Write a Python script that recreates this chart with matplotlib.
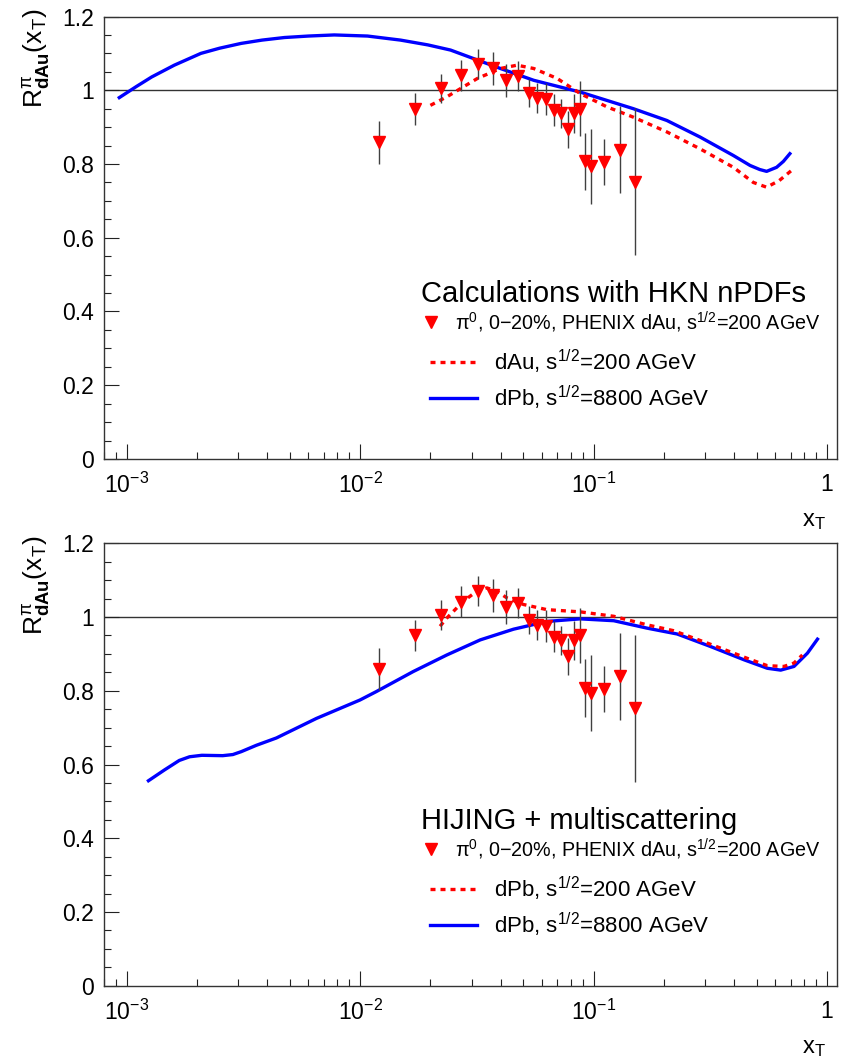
import numpy as np
import matplotlib
matplotlib.use('Agg')
import matplotlib.pyplot as plt
from matplotlib.ticker import FixedLocator, FixedFormatter, MultipleLocator, LogLocator, NullFormatter

plt.rcParams['font.family'] = ['Liberation Sans', 'DejaVu Sans']
plt.rcParams['mathtext.fontset'] = 'custom'
plt.rcParams['mathtext.rm'] = 'Liberation Sans'
plt.rcParams['mathtext.it'] = 'Liberation Sans'
plt.rcParams['mathtext.bf'] = 'Liberation Sans:bold'
plt.rcParams['mathtext.default'] = 'regular'

# PHENIX pi0 dAu 0-20% data (same in both panels)
x_data = [0.0120, 0.0172, 0.0223, 0.0270, 0.0321, 0.0370, 0.0421, 0.0473, 0.0530, 0.0574, 0.0626,
          0.0678, 0.0728, 0.0775, 0.0822, 0.0871, 0.0922, 0.0975, 0.1104, 0.1297, 0.1507]
y_data = [0.859, 0.950, 1.005, 1.041, 1.071, 1.059, 1.027, 1.038, 0.993, 0.979, 0.976,
          0.947, 0.937, 0.894, 0.937, 0.950, 0.807, 0.794, 0.805, 0.839, 0.752]
y_err = [0.058, 0.043, 0.040, 0.042, 0.040, 0.045, 0.045, 0.040, 0.038, 0.040, 0.044,
         0.043, 0.040, 0.050, 0.053, 0.074, 0.078, 0.102, 0.063, 0.118, 0.200]

# top: HKN nPDFs
hkn_dpb_x = [9.3e-4, 1.1e-3, 1.28e-3, 1.6e-3, 2.08e-3, 2.5e-3, 3.09e-3, 3.8e-3, 4.74e-3, 6.0e-3,
             7.75e-3, 1.076e-2, 1.49e-2, 1.95e-2, 2.44e-2, 3.18e-2, 3.99e-2, 5.54e-2, 8.77e-2,
             0.148, 0.206, 0.286, 0.397, 0.468, 0.515, 0.551, 0.608, 0.65, 0.693]
hkn_dpb_y = [0.980, 1.010, 1.036, 1.068, 1.100, 1.114, 1.127, 1.136, 1.143, 1.147,
             1.150, 1.147, 1.136, 1.123, 1.109, 1.082, 1.059, 1.027, 0.995,
             0.950, 0.918, 0.873, 0.823, 0.796, 0.785, 0.780, 0.791, 0.807, 0.828]
hkn_dau_x = [0.0200, 0.0235, 0.0270, 0.0318, 0.0399, 0.0470, 0.0554, 0.0698, 0.0877, 0.114, 0.148,
             0.206, 0.286, 0.397, 0.483, 0.551, 0.624, 0.703]
hkn_dau_y = [0.959, 0.982, 1.005, 1.032, 1.059, 1.068, 1.059, 1.032, 0.991, 0.955, 0.927,
             0.887, 0.841, 0.791, 0.750, 0.737, 0.755, 0.782]

# bottom: HIJING + multiscattering
hij_8800_x = [0.00124, 0.00145, 0.00168, 0.00186, 0.0021, 0.00258, 0.00285, 0.0031, 0.00359, 0.00438,
              0.0065, 0.00999, 0.01175, 0.01687, 0.0235, 0.0327, 0.0454, 0.0631, 0.0877, 0.122,
              0.169, 0.228, 0.317, 0.441, 0.555, 0.633, 0.722, 0.824, 0.910]
hij_8800_y = [0.556, 0.585, 0.611, 0.621, 0.625, 0.624, 0.627, 0.635, 0.652, 0.672,
              0.725, 0.775, 0.798, 0.852, 0.897, 0.938, 0.967, 0.988, 0.995, 0.990,
              0.970, 0.954, 0.920, 0.884, 0.861, 0.856, 0.866, 0.902, 0.940]
hij_200_x = [0.0220, 0.0235, 0.0277, 0.0316, 0.0349, 0.0385, 0.0425, 0.0501, 0.0631, 0.0877,
             0.122, 0.169, 0.220, 0.317, 0.455, 0.555, 0.653, 0.721, 0.784]
hij_200_y = [0.975, 0.997, 1.043, 1.070, 1.079, 1.070, 1.052, 1.034, 1.020, 1.014,
             1.002, 0.979, 0.963, 0.926, 0.888, 0.868, 0.866, 0.875, 0.897]

W, H = 845, 1058
fig = plt.figure(figsize=(W / 100, H / 100), dpi=100)

data_label = 'π$^{0}$, 0−20%, PHENIX dAu, s$^{1/2}$=200 AGeV'
panels = [
    (0.5662, hkn_dpb_x, hkn_dpb_y, hkn_dau_x, hkn_dau_y, 'Calculations with HKN nPDFs',
     'dAu, s$^{1/2}$=200 AGeV'),
    (0.0683, hij_8800_x, hij_8800_y, hij_200_x, hij_200_y, 'HIJING + multiscattering',
     'dPb, s$^{1/2}$=200 AGeV'),
]

for bottom, bx, by, rx, ry, title, red_label in panels:
    ax = fig.add_axes([0.1231, bottom, 0.8671, 0.4182])
    ax.set_xscale('log')
    ax.set_xlim(8.0e-4, 1.1)
    ax.set_ylim(0, 1.2)

    ax.axhline(1.0, color='#333333', lw=1.0, zorder=1)
    ax.plot(bx, by, color='#0000ff', lw=2.4, zorder=3, solid_joinstyle='round')
    ax.plot(rx, ry, color='#ff0000', lw=2.4, dashes=(1.5, 1.5), zorder=3)
    ax.errorbar(x_data, y_data, yerr=y_err, fmt='none', ecolor='#404040', elinewidth=1.0,
                capsize=0, zorder=4)
    ax.plot(x_data, y_data, 'v', color='#ff0000', ms=8.5, mec='#ff0000', zorder=5)

    ax.xaxis.set_major_locator(FixedLocator([1e-3, 1e-2, 1e-1, 1]))
    ax.xaxis.set_major_formatter(FixedFormatter(['$10^{-3}$', '$10^{-2}$', '$10^{-1}$', '1']))
    ax.xaxis.set_minor_locator(LogLocator(base=10, subs=np.arange(2, 10), numticks=20))
    ax.xaxis.set_minor_formatter(NullFormatter())
    ax.yaxis.set_major_locator(MultipleLocator(0.2))
    ax.yaxis.set_minor_locator(MultipleLocator(0.05))
    ax.yaxis.set_major_formatter(matplotlib.ticker.FormatStrFormatter('%g'))

    ax.tick_params(which='both', direction='in', top=False, right=False, width=0.8,
                   color='#222222', labelsize=16.5)
    ax.tick_params(which='major', length=10.5)
    ax.tick_params(which='minor', length=5)
    ax.tick_params(axis='x', which='major', pad=10)
    ax.tick_params(axis='y', which='major', pad=7)
    for s in ax.spines.values():
        s.set_color('#333333')
        s.set_linewidth(1.0)

    ax.text(0.985, -0.14, 'x$_{T}$', transform=ax.transAxes, ha='right', va='center', fontsize=17)

    # legend block
    ax.text(0.432, 0.372, title, transform=ax.transAxes, ha='left', va='center', fontsize=21)
    ax.plot([0.446], [0.3085], 'v', transform=ax.transAxes, color='#ff0000', ms=8.5, clip_on=False)
    ax.text(0.479, 0.3085, data_label, transform=ax.transAxes, ha='left', va='center', fontsize=14.2)
    ax.plot([0.445, 0.509], [0.2195, 0.2195], transform=ax.transAxes, color='#ff0000', lw=2.4,
            dashes=(1.5, 1.5))
    ax.text(0.532, 0.2195, red_label, transform=ax.transAxes, ha='left', va='center', fontsize=16)
    ax.plot([0.445, 0.509], [0.138, 0.138], transform=ax.transAxes, color='#0000ff', lw=2.4)
    ax.text(0.532, 0.138, 'dPb, s$^{1/2}$=8800 AGeV', transform=ax.transAxes, ha='left',
            va='center', fontsize=16)

    fig.text(37 / W, bottom + 0.4182 + 0.0075, 'R$^{π}_{\\mathbf{dAu}}$(x$_{T}$)', rotation=90,
             ha='center', va='top', fontsize=19)

fig.savefig('out.png', dpi=100)
